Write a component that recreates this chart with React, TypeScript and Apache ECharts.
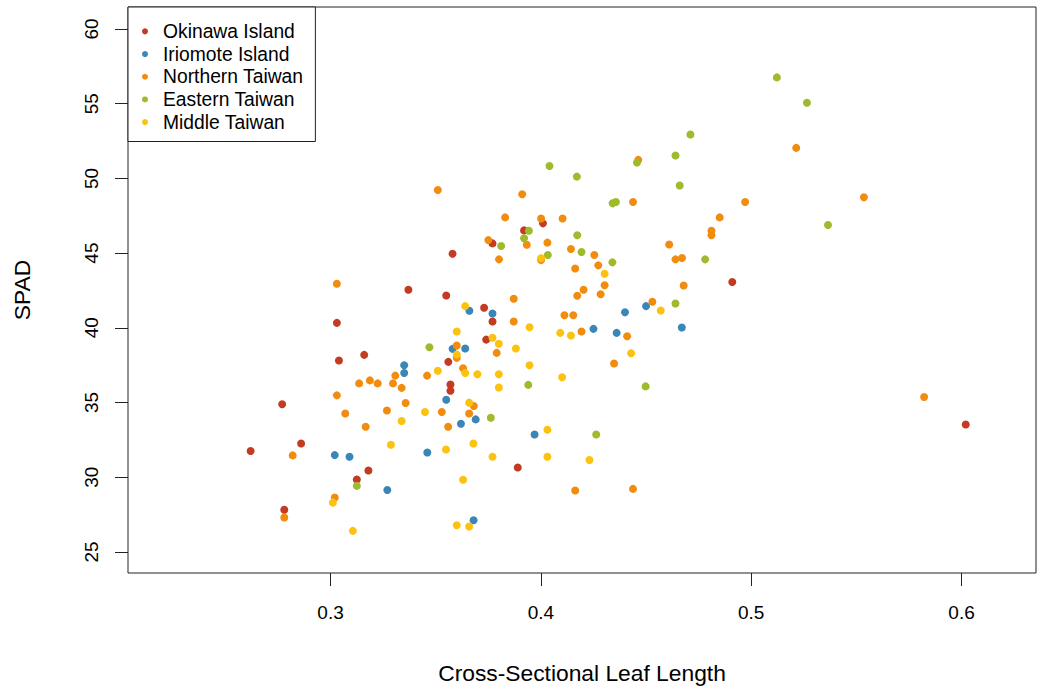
import React, { useEffect, useRef } from "react";
import * as echarts from "echarts";

const SERIES_NAMES = ["Okinawa Island", "Iriomote Island", "Northern Taiwan", "Eastern Taiwan", "Middle Taiwan"];
const SERIES_COLORS = ["#C23B22", "#3A87B7", "#F28C0F", "#9DBB2B", "#FBC20F"];

const X_TICKS = [0.3, 0.4, 0.5, 0.6];
const Y_TICKS = [25, 30, 35, 40, 45, 50, 55, 60];

const okinawa = [
  [0.262, 31.75], [0.277, 34.88], [0.286, 32.26], [0.278, 27.82], [0.303, 40.33], [0.304, 37.81],
  [0.316, 38.19], [0.318, 30.45], [0.3125, 29.85], [0.337, 42.55], [0.355, 42.16], [0.358, 44.96],
  [0.356, 37.72], [0.357, 36.2], [0.357, 35.79], [0.373, 41.34], [0.377, 40.42], [0.374, 39.21],
  [0.389, 30.65], [0.377, 45.65], [0.392, 46.52], [0.401, 46.99], [0.491, 43.06], [0.602, 33.53],
];

const iriomote = [
  [0.302, 31.48], [0.309, 31.37], [0.327, 29.14], [0.335, 37.49], [0.335, 36.98], [0.346, 31.66],
  [0.355, 35.19], [0.358, 38.59], [0.364, 38.61], [0.366, 41.14], [0.362, 33.58], [0.369, 33.87],
  [0.368, 27.12], [0.377, 40.96], [0.397, 32.86], [0.425, 39.93], [0.436, 39.66], [0.44, 41.04],
  [0.45, 41.45], [0.467, 40.02],
];

const northern = [
  [0.282, 31.46], [0.278, 27.3], [0.303, 42.95], [0.303, 35.48], [0.302, 28.64], [0.307, 34.27],
  [0.3136, 36.28], [0.3187, 36.48], [0.3224, 36.28], [0.3167, 33.38], [0.3297, 36.28], [0.3308, 36.8],
  [0.3338, 35.98], [0.3357, 34.97], [0.3268, 34.47], [0.3459, 36.8], [0.3529, 34.37], [0.3559, 33.38],
  [0.351, 49.22], [0.36, 38.81], [0.36, 37.99], [0.363, 37.29], [0.3681, 34.77], [0.3659, 34.27],
  [0.379, 38.32], [0.3871, 41.94], [0.3871, 40.42], [0.375, 45.87], [0.3911, 48.94], [0.383, 47.39],
  [0.4001, 47.31], [0.4103, 47.31], [0.3933, 45.56], [0.4031, 45.7], [0.4143, 45.27], [0.3801, 44.58],
  [0.4001, 44.53], [0.4254, 44.87], [0.4273, 44.18], [0.4163, 43.97], [0.4303, 42.85], [0.4203, 42.55],
  [0.4173, 42.14], [0.4284, 42.25], [0.4112, 40.84], [0.4154, 40.84], [0.4193, 39.75], [0.441, 39.44],
  [0.4463, 51.24], [0.4438, 48.42], [0.4348, 37.61], [0.453, 41.74], [0.4163, 29.11], [0.4438, 29.22],
  [0.461, 45.58], [0.464, 44.58], [0.4671, 44.67], [0.4679, 42.83], [0.4811, 46.5], [0.4811, 46.19],
  [0.485, 47.39], [0.4971, 48.42], [0.5214, 52.04], [0.5536, 48.74], [0.5822, 35.37],
];

const eastern = [
  [0.3125, 29.42], [0.347, 38.7], [0.3762, 33.98], [0.394, 36.18], [0.3811, 45.47], [0.3943, 46.5],
  [0.392, 45.99], [0.4033, 44.87], [0.4041, 50.83], [0.4171, 50.12], [0.4173, 46.19], [0.4193, 45.07],
  [0.4341, 48.33], [0.4357, 48.42], [0.434, 44.38], [0.4457, 51.06], [0.4263, 32.86], [0.4498, 36.08],
  [0.464, 41.63], [0.464, 51.53], [0.466, 49.52], [0.4711, 52.94], [0.4781, 44.58], [0.5122, 56.76],
  [0.5265, 55.06], [0.5365, 46.88],
];

const middle = [
  [0.3011, 28.3], [0.3106, 26.41], [0.364, 41.45], [0.36, 39.75], [0.36, 38.21], [0.377, 39.33],
  [0.38, 38.93], [0.3881, 38.61], [0.3946, 40.04], [0.3946, 37.49], [0.364, 36.98], [0.3698, 36.89],
  [0.38, 36.89], [0.351, 37.12], [0.38, 36.0], [0.3449, 34.37], [0.3659, 34.99], [0.3338, 33.76],
  [0.3287, 32.17], [0.3679, 32.26], [0.3549, 31.86], [0.377, 31.37], [0.363, 29.83], [0.36, 26.79],
  [0.3659, 26.7], [0.4092, 39.66], [0.4143, 39.48], [0.4001, 44.65], [0.4303, 43.62], [0.457, 41.16],
  [0.4429, 38.3], [0.4101, 36.69], [0.4031, 33.18], [0.4031, 31.37], [0.4231, 31.15],
];

const SERIES_DATA = [okinawa, iriomote, northern, eastern, middle];

const FONT = "'Liberation Sans', Arial, Helvetica, sans-serif";
const LINE = "#222";

export default function App() {
  const ref = useRef<HTMLDivElement | null>(null);

  useEffect(() => {
    if (!ref.current) return;
    const chart = echarts.init(ref.current, undefined, { renderer: "svg" });
    chart.setOption({
      animation: false,
      backgroundColor: "#fff",
      grid: {
        left: 128,
        top: 7,
        right: 4,
        bottom: 116,
        show: true,
        borderColor: LINE,
        borderWidth: 1,
        backgroundColor: "transparent",
      },
      legend: {
        orient: "vertical",
        left: 128,
        top: 7,
        data: SERIES_NAMES,
        icon: "circle",
        itemWidth: 26,
        itemHeight: 6,
        itemGap: 0,
        padding: [13, 12, 8, 14],
        borderColor: LINE,
        borderWidth: 1,
        backgroundColor: "#fff",
        textStyle: { fontSize: 19.3, lineHeight: 22.7, color: "#000", fontFamily: FONT },
      },
      xAxis: {
        type: "value",
        min: 0.2037,
        max: 0.6354,
        splitLine: { show: false },
        axisLine: { show: false },
        axisTick: { show: true, length: 13, customValues: X_TICKS, lineStyle: { color: LINE } },
        axisLabel: {
          customValues: X_TICKS,
          formatter: (v: number) => v.toFixed(1),
          fontSize: 19,
          color: "#000",
          margin: 30,
          fontFamily: FONT,
        },
        name: "Cross-Sectional Leaf Length",
        nameLocation: "middle",
        nameGap: 88,
        nameTextStyle: { fontSize: 22.8, color: "#000", fontFamily: FONT },
      },
      yAxis: {
        type: "value",
        min: 23.59,
        max: 61.47,
        splitLine: { show: false },
        axisLine: { show: false },
        axisTick: { show: true, length: 13, customValues: Y_TICKS, lineStyle: { color: LINE } },
        axisLabel: {
          customValues: Y_TICKS,
          formatter: (v: number) => String(Math.round(v)),
          rotate: 90,
          fontSize: 19,
          color: "#000",
          margin: 27,
          fontFamily: FONT,
        },
        name: "SPAD",
        nameLocation: "middle",
        nameGap: 95,
        nameTextStyle: { fontSize: 22.8, color: "#000", fontFamily: FONT },
      },
      series: SERIES_NAMES.map((name, i) => ({
        name,
        type: "scatter",
        data: SERIES_DATA[i],
        symbol: "circle",
        symbolSize: 8,
        itemStyle: { color: SERIES_COLORS[i], opacity: 1 },
        emphasis: { disabled: true },
      })),
    });
    return () => chart.dispose();
  }, []);

  return (
    <div
      ref={ref}
      style={{ position: "fixed", left: 0, top: 0, width: 1040, height: 689, background: "#fff" }}
    />
  );
}
